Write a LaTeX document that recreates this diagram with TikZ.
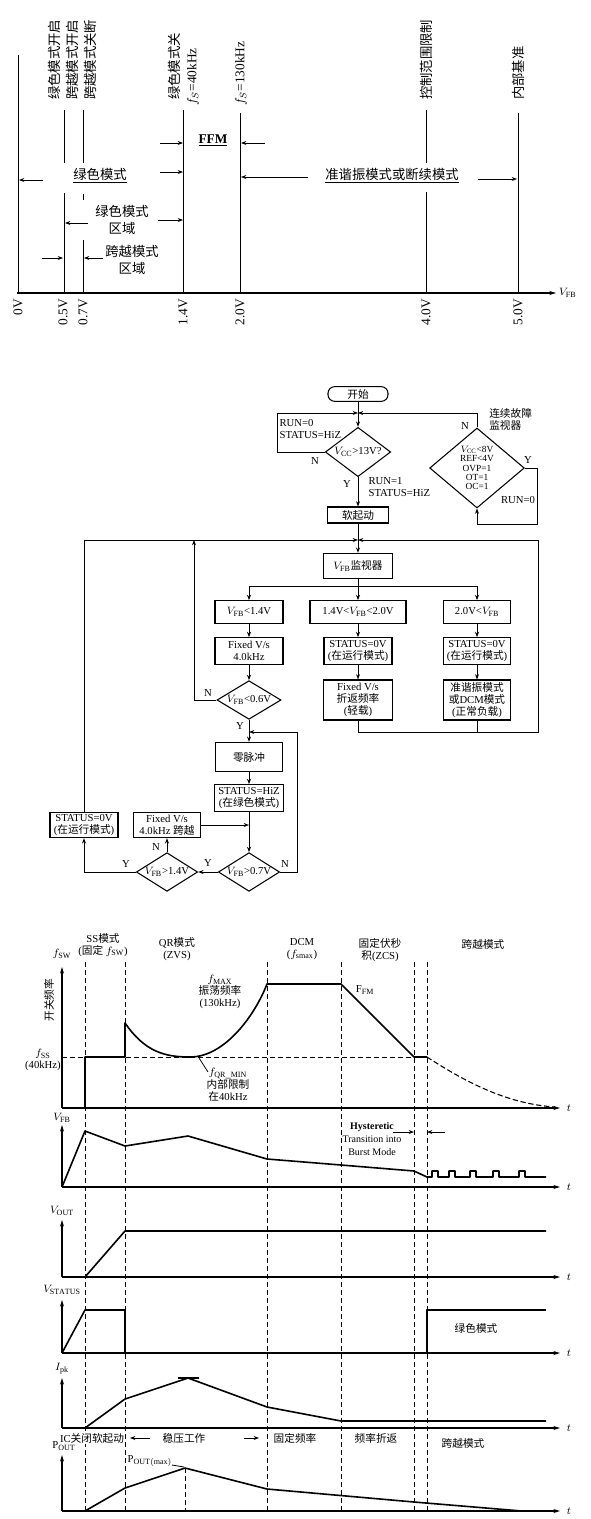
\documentclass[tikz,border=0pt]{standalone}
\usepackage{fontspec}
\setmainfont{Liberation Serif}
\newfontfamily\cjk{Noto Sans CJK SC}
\newcommand{\zh}[1]{{\cjk #1}}
\usetikzlibrary{arrows.meta,shapes.geometric}

\begin{document}
\begin{tikzpicture}[
    x=0.75pt, y=-0.75pt,
    font=\fontsize{8}{9}\selectfont,
    topo/.style={font=\fontsize{10}{13}\selectfont},
    rot/.style={rotate=90, inner sep=0pt, font=\fontsize{10}{12}\selectfont},
    caixa/.style={draw, thick, align=center, inner sep=1pt, minimum height=17pt},
    decisao/.style={diamond, draw, thick, aspect=1.7, inner sep=0pt,
                    minimum width=48pt, minimum height=29pt},
    seta/.style={-{Stealth[length=4pt, width=3pt]}, semithick},
    linha/.style={semithick},
    eixo/.style={-{Stealth[length=5pt, width=3pt]}, thick},
    onda/.style={very thick, line join=round},
    guia/.style={semithick, dash pattern=on 4pt off 2pt},
    rotulo/.style={align=center, inner sep=0pt},
    fase/.style={fill=white, inner sep=1pt}
]
\useasboundingbox (0,0) rectangle (590,1519);

% --- faixas de tensao de V_FB
\draw[eixo] (17,293) -- (556,293) node[right, inner sep=2pt] (vfbEixo) {$V_{\mathrm{FB}}$};
\foreach \xv/\tv [count=\i] in {18/0V, 63/0.5V, 83/0.7V, 183/1.4V, 240/2.0V, 426/4.0V, 518/5.0V}
  \node[rot, anchor=east] (tick\i) at (\xv,299) {\tv};

\draw[linha] (18,55) -- (18,293);
\draw[linha] (64,110) -- (64,163) (64,193) -- (64,293);
\draw[linha] (83,110) -- (83,163) (83,194) -- (83,200) (83,240) -- (83,293);
\draw[linha] (183,110) -- (183,293);
\draw[linha] (240,113) -- (240,293);
\draw[linha] (426,110) -- (426,163) (426,192) -- (426,293);
\draw[linha] (518,113) -- (518,293);

\node[rot, anchor=west] (lblA) at (54,100) {\zh{绿色模式开启}};
\node[rot, anchor=west] (lblB) at (72,100) {\zh{跨越模式开启}};
\node[rot, anchor=west] (lblC) at (90,100) {\zh{跨越模式关断}};
\node[rot, anchor=west] (lblD) at (174,100) {\zh{绿色模式关}};
\node[rot, anchor=west] (lblE) at (193,106) {$f_S$=40kHz};
\node[rot, anchor=west] (lblF) at (241,106) {$f_S$=130kHz};
\node[rot, anchor=west] (lblG) at (426,100) {\zh{控制范围限制}};
\node[rot, anchor=west] (lblH) at (518,100) {\zh{内部基准}};

\node[topo] (verde) at (100,176) {\underline{\zh{绿色模式}}};
\node[topo] (ffm) at (213,140) {\underline{\textbf{FFM}}};
\node[topo] (quasi) at (392,176) {\underline{\zh{准谐振模式或断续模式}}};
\node[topo, rotulo] (zonaVerde) at (122,220) {\zh{绿色模式}\\\zh{区域}};
\node[topo, rotulo] (zonaSalto) at (132,260) {\zh{跨越模式}\\\zh{区域}};

\draw[seta] (43,180) -- (19,180);
\draw[seta] (160,172) -- (183,172);
\draw[seta] (160,143) -- (183,143);
\draw[seta] (265,143) -- (241,143);
\draw[seta] (308,177) -- (241,177);
\draw[seta] (478,179) -- (517,179);
\draw[seta] (88,223) -- (65,223);
\draw[seta] (158,220) -- (183,220);
\draw[seta] (42,258) -- (63,258);
\draw[seta] (103,258) -- (84,258);

% --- fluxograma
\node[caixa, rounded corners=5pt, minimum width=45pt, minimum height=11pt] (inicio) at (358,394) {\zh{开始}};
\node[decisao, aspect=1.3, minimum width=49pt, minimum height=37pt] (vcc) at (358,452) {$V_{\mathrm{CC}}$>13V?};
\node[decisao, aspect=1.2, minimum width=71pt, minimum height=60pt, align=center,
      font=\fontsize{7}{7}\selectfont] (falha) at (477,468) {$V_{\mathrm{CC}}$<8V\\REF<4V\\OVP=1\\OT=1\\OC=1};
\node[caixa, minimum width=46pt, minimum height=12pt] (suave) at (358,515) {\zh{软起动}};
\node[caixa, minimum width=52pt, minimum height=19pt] (monitor) at (358,566) {$V_{\mathrm{FB}}$\zh{监视器}};
\node[caixa, minimum width=51pt] (faixaA) at (249,612) {$V_{\mathrm{FB}}$<1.4V};
\node[caixa, minimum width=72pt] (faixaB) at (358,612) {1.4V<$V_{\mathrm{FB}}$<2.0V};
\node[caixa, minimum width=50pt] (faixaC) at (477,612) {2.0V<$V_{\mathrm{FB}}$};
\node[caixa, minimum width=51pt, minimum height=20pt] (acaoA) at (249,651) {Fixed V/s\\4.0kHz};
\node[caixa, minimum width=51pt, minimum height=20pt] (statusB) at (358,651) {STATUS=0V\\(\zh{在运行模式})};
\node[caixa, minimum width=50pt, minimum height=20pt] (statusC) at (477,651) {STATUS=0V\\(\zh{在运行模式})};
\node[caixa, minimum width=52pt, minimum height=30pt] (modoB) at (358,700) {Fixed V/s\\\zh{折返频率}\\(\zh{轻载})};
\node[caixa, minimum width=50pt, minimum height=30pt] (modoC) at (477,700) {\zh{准谐振模式}\\\zh{或}DCM\zh{模式}\\(\zh{正常负载})};
\node[decisao] (dec06) at (249,700) {$V_{\mathrm{FB}}$<0.6V};
\node[caixa, minimum width=50pt, minimum height=22pt] (zero) at (249,757) {\zh{零脉冲}};
\node[caixa, minimum width=52pt, minimum height=20pt] (hiz) at (249,798) {STATUS=HiZ\\(\zh{在绿色模式})};
\node[decisao, minimum width=46pt] (dec07) at (249,872) {$V_{\mathrm{FB}}$>0.7V};
\node[decisao, minimum width=46pt] (dec14) at (167,872) {$V_{\mathrm{FB}}$>1.4V};
\node[caixa, minimum width=50pt, minimum height=19pt] (salto) at (167,825) {Fixed V/s\\4.0kHz \zh{跨越}};
\node[caixa, minimum width=51pt, minimum height=19pt] (run0v) at (84,825) {STATUS=0V\\(\zh{在运行模式})};

\coordinate (j1) at (358,413);
\coordinate (cantoN) at (277,452);
\coordinate (retY) at (537,524);
\coordinate (j2) at (358,540);
\coordinate (j3) at (358,586);
\coordinate (jN) at (194,540);
\coordinate (bR) at (538,732);
\coordinate (retN) at (297,732);

\draw[seta] (inicio) -- (vcc);
\draw[seta] (vcc.west) -- (cantoN) |- (j1);
\draw[seta] (falha.north) |- (j1);
\draw[seta] (falha.east) -| (retY) -| (falha.south);
\draw[seta] (vcc) -- (suave);
\draw[seta] (suave) -- (monitor);
\draw[seta] (run0v.north) |- (j2);
\draw[seta] (dec06.west) -| (jN);
\draw[seta] (modoB.south) |- (bR) |- (j2);
\draw[linha] (modoC.south) -- (modoC.south |- bR);
\draw[linha] (monitor) -- (j3);
\draw[seta] (j3) -| (faixaA);
\draw[seta] (j3) -- (faixaB);
\draw[seta] (j3) -| (faixaC);
\draw[seta] (faixaA) -- (acaoA);
\draw[seta] (acaoA) -- (dec06);
\draw[seta] (faixaB) -- (statusB);
\draw[seta] (statusB) -- (modoB);
\draw[seta] (faixaC) -- (statusC);
\draw[seta] (statusC) -- (modoC);
\draw[seta] (dec06) -- (zero);
\draw[seta] (zero) -- (hiz);
\draw[seta] (hiz) -- (dec07);
\draw[seta] (salto.east) -- (salto.east -| hiz.south);
\draw[seta] (dec07.west) -- (dec14.east);
\draw[seta] (dec14.north) -- (salto.south);
\draw[seta] (dec14.west) -| (run0v.south);
\draw[seta] (dec07.east) -| (retN) -- (retN -| zero.north);

\node[align=left, anchor=west, inner sep=1pt] (runNo) at (278,429) {RUN=0\\STATUS=HiZ};
\node[align=left, anchor=west, inner sep=1pt] (runOk) at (367,487) {RUN=1\\STATUS=HiZ};
\node[align=left, anchor=west, inner sep=0pt] (monFalha) at (489,419) {\zh{连续故障}\\\zh{监视器}};
\node (nVcc) at (315,461) {N};
\node (yVcc) at (347,484) {Y};
\node (nFalha) at (465,426) {N};
\node (yFalha) at (528,460) {Y};
\node (runZero) at (518,500) {RUN=0};
\node (nDec06) at (208,693) {N};
\node (yDec06) at (240,726) {Y};
\node (nDec14) at (156,847) {N};
\node (yDec14) at (126,864) {Y};
\node (yDec07) at (208,863) {Y};
\node (nDec07) at (285,864) {N};

% --- formas de onda
\foreach \xg in {85,125,267,341,414,427}
  \draw[guia] (\xg,962) -- (\xg,1511);
\foreach \ya/\yt [count=\i] in {1108/967, 1187/1125, 1277/1220, 1353/1300, 1428/1378, 1511/1455} {
  \draw[eixo] (62,\ya) -- (62,\yt);
  \draw[eixo] (62,\ya) -- (560,\ya);
  \node (tempo\i) at (569,\ya) {$t$};
}

\node (lfsw) at (62,954) {$f_{\mathrm{SW}}$};
\node (lvfb) at (62,1118) {$V_{\mathrm{FB}}$};
\node (lvout) at (62,1211) {$V_{\mathrm{OUT}}$};
\node (lvst) at (62,1290) {$V_{\mathrm{STATUS}}$};
\node (lipk) at (62,1369) {$I_{\mathrm{pk}}$};
\node (lpout) at (64,1446) {P$_{\mathrm{OUT}}$};
\node[rotulo, rotate=90] (fsw) at (49,1000) {\zh{开关频率}};
\node[rotulo, anchor=east] (fss) at (61,1060) {$f_{\mathrm{SS}}$\\(40kHz)};

\node[rotulo] (mSS) at (103,945) {SS\zh{模式}\\(\zh{固定} $f_{\mathrm{SW}}$)};
\node[rotulo] (mQR) at (177,949) {QR\zh{模式}\\(ZVS)};
\node[rotulo] (mDCM) at (302,949) {DCM\\($f_{\mathrm{smax}}$)};
\node[rotulo] (mFix) at (380,950) {\zh{固定伏秒}\\\zh{积}(ZCS)};
\node[rotulo] (mSalto) at (483,944) {\zh{跨越模式}};
\node[rotulo] (fmax) at (220,992) {$f_{\mathrm{MAX}}$\\\zh{振荡频率}\\(130kHz)};
\node (ffmLbl) at (365,990) {F$_{\mathrm{FM}}$};
\node[rotulo] (fqr) at (228,1085) {$f_{\mathrm{QR\_MIN}}$\\\zh{内部限制}\\\zh{在}40kHz};
\draw[linha] (199,1058) -- (208,1072);

% f_SW
\draw[guia] (62,1057) -- (414,1057);
\draw[onda] (85,1108) -- (85,1057) -- (125,1057) -- (125,1023)
    .. controls (145,1052) and (165,1057) .. (190,1057)
    .. controls (225,1057) and (255,1015) .. (267,984)
    -- (341,984) -- (414,1057) -- (427,1057);
\draw[guia, thick] (427,1057) .. controls (470,1085) and (510,1104) .. (555,1107);

% V_FB
\draw[onda] (62,1187) -- (85,1131) -- (125,1146) -- (188,1136) -- (267,1159)
    -- (341,1165) -- (414,1171) -- (427,1177)
    foreach \xp in {432,449,470,493,519} { -- (\xp,1177) -- (\xp,1171) -- (\xp+6,1171) -- (\xp+6,1177) }
    -- (546,1177);
\node[rotulo, font=\fontsize{7.5}{10}\selectfont] (hist) at (372,1139) {\textbf{Hysteretic}\\Transition into\\Burst Mode};
\draw[seta] (393,1132) -- (414,1132);
\draw[seta] (445,1132) -- (427,1132);

% V_OUT
\draw[onda] (85,1277) -- (125,1231) -- (546,1231);

% V_STATUS
\draw[onda] (62,1353) -- (85,1310) -- (125,1310) -- (125,1353);
\draw[onda] (427,1353) -- (427,1310) -- (546,1310);
\node (verde2) at (476,1328) {\zh{绿色模式}};

% I_pk
\draw[onda] (85,1428) -- (125,1399) -- (188,1378) -- (267,1407) -- (341,1421) -- (546,1421);
\draw[onda] (178,1378) -- (199,1378);

\node[fase] (icOff) at (92,1438) {IC\zh{关闭软起动}};
\node[fase] (reg) at (184,1438) {\zh{稳压工作}};
\draw[seta] (150,1438) -- (130,1438);
\draw[seta] (244,1438) -- (259,1438);
\node[fase] (fixa) at (295,1438) {\zh{固定频率}};
\node[fase] (dobra) at (376,1438) {\zh{频率折返}};
\node[fase] (salto2) at (463,1443) {\zh{跨越模式}};

% P_OUT
\draw[onda] (85,1511) -- (125,1488) -- (185,1468) -- (267,1489) -- (414,1502) -- (522,1511);
\draw[guia] (185,1468) -- (185,1511);
\node (poutmax) at (150,1461) {P$_{\mathrm{OUT(max)}}$};
\draw[linha] (172,1465) -- (184,1467);

\end{tikzpicture}
\end{document}
